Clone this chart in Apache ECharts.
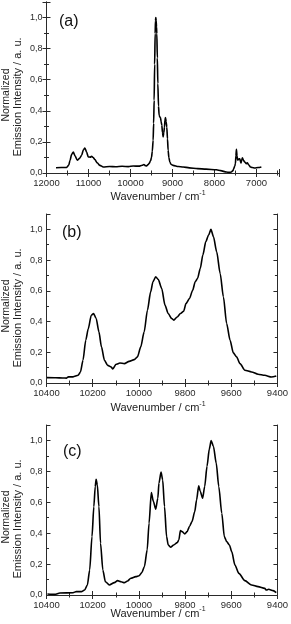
<!DOCTYPE html>
<html><head><meta charset="utf-8">
<script src="https://cdn.jsdelivr.net/npm/echarts@6/dist/echarts.min.js"></script>
<style>html,body{margin:0;padding:0;background:#fff}#c{width:291px;height:624px}</style>
</head><body><div id="c"></div>
<script>
// Panel (a): wavenumber (cm-1) and normalized intensity
const wnA = [11774,11650,11520,11470,11441,11400,11362,11320,11267,11210,11164,11120,11085,11045,11005,10960,10926,10890,10847,10790,10728,10648,10500,10350,10200,10050,9934,9800,9720,9680,9640,9617,9580,9554,9520,9499,9480,9460,9448,9436,9424,9412,9404,9396,9388,9380,9372,9360,9348,9332,9317,9300,9285,9270,9253,9237,9222,9205,9190,9178,9166,9150,9135,9118,9103,9085,9063,9030,8984,8860,8746,8600,8400,8200,7953,7850,7715,7650,7596,7560,7540,7515,7500,7488,7476,7462,7445,7420,7397,7380,7366,7350,7334,7305,7279,7239,7215,7199,7175,7144,7100,7041,6960,6882];
const intA = [0.034,0.035,0.036,0.05,0.08,0.12,0.135,0.11,0.082,0.095,0.114,0.15,0.161,0.135,0.103,0.102,0.107,0.1,0.086,0.065,0.049,0.039,0.042,0.040,0.043,0.041,0.045,0.044,0.05,0.055,0.047,0.045,0.055,0.062,0.08,0.10,0.14,0.21,0.32,0.468,0.70,0.897,0.98,1.0,0.98,0.94,0.897,0.74,0.575,0.43,0.37,0.36,0.356,0.33,0.307,0.26,0.232,0.26,0.296,0.34,0.356,0.33,0.296,0.22,0.146,0.10,0.071,0.055,0.049,0.042,0.039,0.033,0.028,0.025,0.021,0.015,0.006,0.004,0.006,0.015,0.028,0.045,0.06,0.11,0.152,0.11,0.082,0.09,0.092,0.075,0.064,0.085,0.097,0.08,0.071,0.06,0.066,0.067,0.05,0.039,0.035,0.032,0.035,0.039];
// Panel (b)
const wnB = [10398,10360,10330,10313,10305,10285,10263,10253,10242,10230,10219,10206,10196,10185,10173,10162,10149,10135,10120,10113,10099,10082,10063,10042,10020,10006,9992,9977,9963,9949,9939,9927,9916,9901,9887,9873,9858,9849,9834,9820,9806,9796,9781,9767,9756,9746,9734,9723,9710,9698,9688,9677,9663,9648,9634,9620,9605,9591,9577,9562,9541,9512,9484,9455,9426,9405];
const intB = [0.035,0.034,0.033,0.032,0.04,0.04,0.05,0.072,0.148,0.278,0.354,0.441,0.452,0.42,0.333,0.235,0.148,0.115,0.104,0.091,0.122,0.13,0.126,0.141,0.152,0.17,0.235,0.333,0.474,0.593,0.659,0.691,0.674,0.615,0.507,0.452,0.42,0.409,0.43,0.452,0.467,0.517,0.55,0.604,0.659,0.68,0.746,0.833,0.92,0.963,1.0,0.952,0.854,0.713,0.561,0.387,0.278,0.196,0.17,0.126,0.083,0.072,0.057,0.05,0.039,0.046];
// Panel (c)
const wnC = [10396,10364,10342,10285,10271,10249,10235,10223,10213,10203,10195,10189,10185,10180,10173,10166,10156,10145,10128,10106,10092,10077,10063,10049,10035,10013,9999,9987,9976,9964,9956,9946,9937,9927,9918,9913,9904,9897,9889,9880,9873,9863,9849,9834,9827,9820,9813,9801,9791,9781,9770,9758,9750,9741,9734,9724,9715,9705,9695,9687,9677,9665,9654,9641,9630,9620,9608,9598,9584,9567,9541,9512,9484,9455,9448,9438,9419,9405];
const intC = [0.006,0.004,0.013,0.015,0.022,0.022,0.032,0.065,0.162,0.378,0.572,0.702,0.749,0.713,0.572,0.335,0.162,0.086,0.065,0.08,0.093,0.086,0.08,0.091,0.108,0.119,0.125,0.145,0.184,0.292,0.464,0.663,0.605,0.555,0.626,0.724,0.795,0.745,0.572,0.378,0.324,0.309,0.324,0.339,0.356,0.417,0.41,0.395,0.41,0.443,0.475,0.54,0.616,0.706,0.67,0.626,0.702,0.832,0.944,1.0,0.961,0.853,0.702,0.529,0.378,0.346,0.324,0.281,0.194,0.14,0.093,0.065,0.054,0.043,0.032,0.037,0.028,0.015];

const xTicksA = [12000,11000,10000,9000,8000,7000];
const xTicksBC = [10400,10200,10000,9800,9600,9400];
const yTicks = ['0,0','0,2','0,4','0,6','0,8','1,0'];
const panelLabels = ['(a)','(b)','(c)'];
const xName = 'Wavenumber / cm';
const yName1 = 'Normalized';
const yName2 = 'Emission Intensity / a. u.';

const A_REF = 12000; // panel (a) axis measured as distance from 12000 cm-1
const FONT = '"Liberation Sans", Arial, sans-serif';
const lineC = '#2a2a2a';

const grids = [
  {left: 46.5, width: 233, top: 2, height: 171},
  {left: 46.5, width: 233, top: 214, height: 169},
  {left: 46.5, width: 233, top: 425, height: 170}
];

function xAxesFor(gi, min, max, major, minor, inverse, fmt) {
  const base = {gridIndex: gi, type: 'value', min, max, inverse, splitLine: {show: false}};
  return [
    Object.assign({}, base, {position: 'bottom', interval: major,
      axisLine: {show: true, lineStyle: {color: lineC, width: 1}},
      axisTick: {show: true, inside: true, length: 4, lineStyle: {color: lineC}},
      axisLabel: {show: true, margin: 5, fontSize: 9.5, color: '#2a2a2a', fontFamily: FONT, formatter: fmt, showMinLabel: true, showMaxLabel: true}}),
    Object.assign({}, base, {position: 'bottom', interval: minor,
      axisLine: {show: false}, axisTick: {show: true, inside: true, length: 2.5, lineStyle: {color: lineC}}, axisLabel: {show: false}}),
    Object.assign({}, base, {position: 'top', interval: major,
      axisLine: {show: true, lineStyle: {color: lineC, width: 1}},
      axisTick: {show: true, inside: true, length: 4, lineStyle: {color: lineC}}, axisLabel: {show: false}}),
    Object.assign({}, base, {position: 'top', interval: minor,
      axisLine: {show: false}, axisTick: {show: true, inside: true, length: 2.5, lineStyle: {color: lineC}}, axisLabel: {show: false}})
  ];
}
function yFmt(v) {
  const k = Math.round(v * 10);
  if (k % 2 !== 0 || k > 10) return '';
  return yTicks[k / 2];
}
function yAxesFor(gi) {
  const base = {gridIndex: gi, type: 'value', min: 0, max: 1.1, splitLine: {show: false}};
  return [
    Object.assign({}, base, {position: 'left', interval: 0.2,
      axisLine: {show: true, lineStyle: {color: lineC, width: 1}},
      axisTick: {show: true, inside: true, length: 4, lineStyle: {color: lineC}},
      axisLabel: {show: true, margin: 4, fontSize: 9, color: '#2a2a2a', fontFamily: FONT, formatter: yFmt}}),
    Object.assign({}, base, {position: 'left', interval: 0.1,
      axisLine: {show: false}, axisTick: {show: true, inside: true, length: 2.5, lineStyle: {color: lineC}}, axisLabel: {show: false}}),
    Object.assign({}, base, {position: 'right', interval: 0.2,
      axisLine: {show: true, lineStyle: {color: lineC, width: 1}},
      axisTick: {show: true, inside: true, length: 4, lineStyle: {color: lineC}}, axisLabel: {show: false}}),
    Object.assign({}, base, {position: 'right', interval: 0.1,
      axisLine: {show: false}, axisTick: {show: true, inside: true, length: 2.5, lineStyle: {color: lineC}}, axisLabel: {show: false}})
  ];
}
const fmtA = v => (Math.abs(v % 1000) < 1e-6 && xTicksA.indexOf(A_REF - v) >= 0) ? String(A_REF - v) : '';
const fmtBC = v => (xTicksBC.indexOf(Math.round(v)) >= 0 && Math.abs(v - Math.round(v)) < 1e-6) ? String(Math.round(v)) : '';

const xAxis = [].concat(
  xAxesFor(0, 0, A_REF - 6450, 1000, 500, false, fmtA),
  xAxesFor(1, 9400, 10400, 200, 100, true, fmtBC),
  xAxesFor(2, 9400, 10400, 200, 100, true, fmtBC)
);
const yAxis = [].concat(yAxesFor(0), yAxesFor(1), yAxesFor(2));

const dataA = wnA.map((w, i) => [A_REF - w, intA[i]]);
const dataB = wnB.map((w, i) => [w, intB[i]]);
const dataC = wnC.map((w, i) => [w, intC[i]]);

function lineSeries(gi, data) {
  return {type: 'line', xAxisIndex: gi * 4, yAxisIndex: gi * 4, data, showSymbol: false, symbol: 'none',
    smooth: 0.25, smoothMonotone: 'x', lineStyle: {color: '#000', width: 1.6}, silent: true, animation: false};
}

const xNameY = [197, 408, 613.5];
const yNameY = [95, 306, 517];
const panelPos = [[59, 22], [62, 233], [63, 452]];
const graphic = [];
for (let i = 0; i < 3; i++) {
  graphic.push({type: 'text', x: 158, y: xNameY[i], silent: true,
    style: {text: '{m|' + xName + '}{s|-1}', align: 'center', verticalAlign: 'middle',
      rich: {m: {fontSize: 11, fontFamily: FONT, fill: '#222'}, s: {fontSize: 7, fontFamily: FONT, fill: '#222', padding: [0, 0, 8, 0]}}}});
  graphic.push({type: 'text', x: 6.5, y: yNameY[i], rotation: Math.PI / 2, silent: true,
    style: {text: yName1, fontSize: 10.5, fontFamily: FONT, fill: '#222', align: 'center', verticalAlign: 'middle'}});
  graphic.push({type: 'text', x: 18, y: yNameY[i] + 2, rotation: Math.PI / 2, silent: true,
    style: {text: yName2, fontSize: 11, fontFamily: FONT, fill: '#222', align: 'center', verticalAlign: 'middle'}});
  graphic.push({type: 'text', x: panelPos[i][0], y: panelPos[i][1], silent: true,
    style: {text: panelLabels[i], fontSize: 16, fontFamily: FONT, fill: '#111', align: 'left', verticalAlign: 'middle'}});
}

const chart = echarts.init(document.getElementById('c'), null, {renderer: 'canvas'});
chart.setOption({
  animation: false,
  backgroundColor: '#fff',
  grid: grids,
  xAxis, yAxis,
  series: [lineSeries(0, dataA), lineSeries(1, dataB), lineSeries(2, dataC)],
  graphic
});
</script></body></html>
